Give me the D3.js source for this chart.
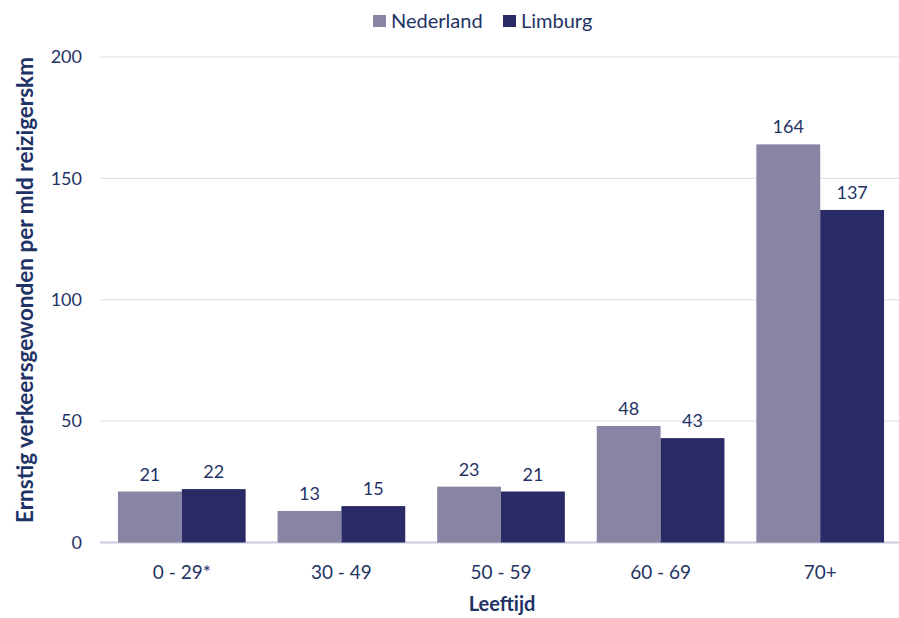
<!DOCTYPE html>
<html>
<head>
<meta charset="utf-8">
<script src="https://cdn.jsdelivr.net/npm/d3@7"></script>
<style>
  body { margin: 0; background: #fff; }
  text { font-family: Lato, "Open Sans", sans-serif; fill: #1f3366; }
</style>
</head>
<body>
<div class="chart"></div>
<script>
// age groups and values
var categories = ["0 - 29*", "30 - 49", "50 - 59", "60 - 69", "70+"]
var seriesNames = ["Nederland", "Limburg"]
var nederland = [21, 13, 23, 48, 164]
var limburg = [22, 15, 21, 43, 137]
var yTicks = [0, 50, 100, 150, 200]

var colors = { "Nederland": "#8884a3", "Limburg": "#2a2a66" }

var width = 899, height = 618
var margin = { top: 57, right: -1, bottom: 75, left: 102 }

var svg = d3.select(".chart")
    .append("svg")
    .attr("width", width)
    .attr("height", height)

var x = d3.scaleBand()
    .domain(categories)
    .range([margin.left, width - margin.right])
    .paddingInner(0.2)
    .paddingOuter(0.1)

var xSub = d3.scaleBand()
    .domain(seriesNames)
    .range([0, x.bandwidth()])

var y = d3.scaleLinear()
    .domain([0, 200])
    .range([height - margin.bottom - 0.5, margin.top])

// gridlines
svg.append("g")
    .selectAll("line")
    .data(yTicks)
    .join("line")
    .attr("x1", 100)
    .attr("x2", width)
    .attr("y1", d => y(d))
    .attr("y2", d => y(d))
    .attr("stroke", d => d == 0 ? "#c9c9e0" : "#dcdcea")
    .attr("stroke-width", d => d == 0 ? 2 : 1)

// y axis labels
svg.append("g")
    .selectAll("text")
    .data(yTicks)
    .join("text")
    .attr("x", 82)
    .attr("y", d => y(d))
    .attr("dy", "0.35em")
    .attr("text-anchor", "end")
    .style("font-size", "18px")
    .text(d => d)

var rows = categories.map(function (c, i) {
    return { cat: c, values: [
        { name: "Nederland", value: nederland[i] },
        { name: "Limburg", value: limburg[i] }
    ] }
})

var groups = svg.append("g")
    .selectAll("g")
    .data(rows)
    .join("g")
    .attr("transform", d => "translate(" + x(d.cat) + ",0)")

groups.selectAll("rect")
    .data(d => d.values)
    .join("rect")
    .attr("x", d => xSub(d.name))
    .attr("width", xSub.bandwidth())
    .attr("y", d => y(d.value))
    .attr("height", d => y(0) - y(d.value))
    .attr("fill", d => colors[d.name])

groups.selectAll("text")
    .data(d => d.values)
    .join("text")
    .attr("x", d => xSub(d.name) + xSub.bandwidth() / 2)
    .attr("y", d => y(d.value) - 11)
    .attr("text-anchor", "middle")
    .style("font-size", "18px")
    .text(d => d.value)

// x axis labels
svg.append("g")
    .selectAll("text")
    .data(categories)
    .join("text")
    .attr("x", d => x(d) + x.bandwidth() / 2)
    .attr("y", 579)
    .attr("text-anchor", "middle")
    .style("font-size", "19px")
    .text(d => d)

// axis titles
svg.append("text")
    .attr("x", 502)
    .attr("y", 611)
    .attr("text-anchor", "middle")
    .style("font-size", "20px")
    .style("font-weight", "bold")
    .text("Leeftijd")

svg.append("text")
    .attr("transform", "translate(33,290) rotate(-90)")
    .attr("text-anchor", "middle")
    .style("font-size", "22.5px")
    .style("font-weight", "bold")
    .text("Ernstig verkeersgewonden per mld reizigerskm")

// legend
var legendX = [373, 503]
var legend = svg.append("g")
    .selectAll("g")
    .data(seriesNames)
    .join("g")
    .attr("transform", (d, i) => "translate(" + legendX[i] + ",15)")

legend.append("rect")
    .attr("width", 13)
    .attr("height", 12)
    .attr("fill", d => colors[d])

legend.append("text")
    .attr("x", 18)
    .attr("y", 6)
    .attr("dy", "0.35em")
    .style("font-size", "20px")
    .text(d => d)
</script>
</body>
</html>
